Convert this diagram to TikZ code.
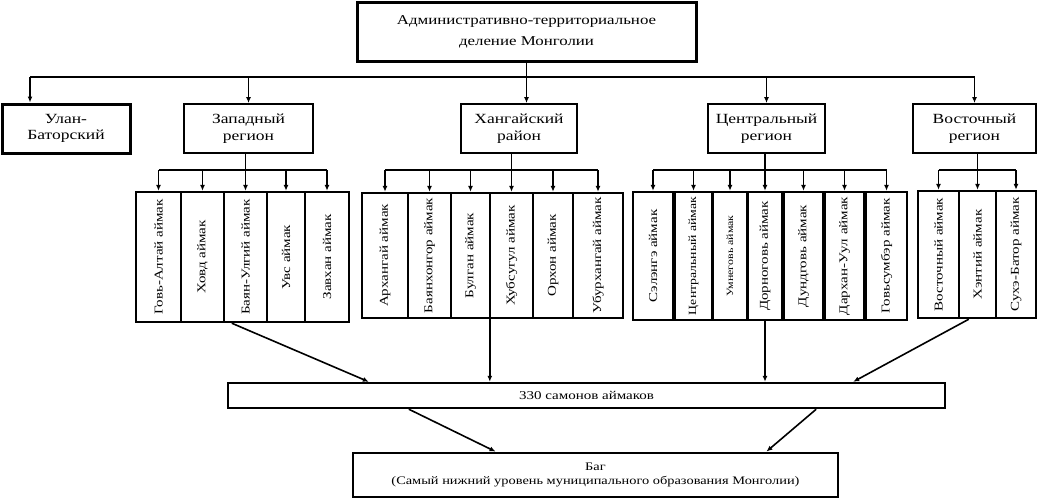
\documentclass[tikz,border=0pt]{standalone}
\usepackage{fontspec}
\usepackage{graphicx}
\setmainfont{Liberation Serif}
\newfontfamily\stf[FakeStretch=1.25]{Liberation Serif}
\usetikzlibrary{arrows.meta,calc}
\newcommand\bx[7]{\node[#1, minimum width={#4-#2}, minimum height={#5-#3}] (#6) at ({(#2+#4)/2},{(#3+#5)/2}) {#7};}
\newcommand\vt[1]{\rotatebox{90}{#1}}
\begin{document}
\begin{tikzpicture}[x=1pt,y=-1pt,
  box/.style={draw, line width=1.9pt, inner sep=0pt, align=center, font=\stf\fontsize{14}{16.5}\selectfont},
  tbox/.style={box, line width=3pt},
  abox/.style={draw, line width=2.4pt, inner sep=0pt, font=\stf\fontsize{12}{14}\selectfont},
  conn/.style={line width=1.6pt},
  arr/.style={conn, -{Latex[length=6pt,width=5pt]}}
]
\useasboundingbox (0,0) rectangle (1040,501);
% top
\bx{tbox, font=\stf\fontsize{13.5}{21}\selectfont}{357}{2}{696}{61}{top}{Административно-территориальное\\деление Монголии}
% regions
\bx{tbox}{2}{104}{130}{153}{ulan}{Улан-\\Баторский}
\bx{box}{184}{104}{313}{153}{west}{Западный\\регион}
\bx{box}{461}{104}{577}{153}{hang}{Хангайский\\район}
\bx{box}{708}{104}{825}{153}{cent}{Центральный\\регион}
\bx{box}{913}{104}{1036}{153}{east}{Восточный\\регион}
% top bus
\coordinate (busL) at (30,77);
\draw[conn] (top.south) -- (top.south |- busL);
\draw[conn] (busL) -- (east.north |- busL);
\draw[arr] (busL) -- (busL |- ulan.north);
\draw[arr] (west.north |- busL) -- (west.north);
\draw[arr] (top.south |- busL) -- (top.south |- hang.north);
\draw[arr] (cent.north |- busL) -- (cent.north);
\draw[arr] (east.north |- busL) -- (east.north);
% western aimags
\bx{abox}{136}{192}{181}{322}{w1}{\vt{Говь-Алтай аймак}}
\bx{abox}{181}{192}{224}{322}{w2}{\vt{Ховд аймак}}
\bx{abox}{224}{192}{267}{322}{w3}{\vt{Баян-Улгий аймак}}
\bx{abox}{267}{192}{305}{322}{w4}{\vt{Увс аймак}}
\bx{abox}{305}{192}{349}{322}{w5}{\vt{Завхан аймак}}
% khangai aimags
\bx{abox}{362}{193}{408}{318}{k1}{\vt{Архангай аймак}}
\bx{abox}{408}{193}{451}{318}{k2}{\vt{Баянхонгор аймак}}
\bx{abox}{451}{193}{490}{318}{k3}{\vt{Булган аймак}}
\bx{abox}{490}{193}{533}{318}{k4}{\vt{Хубсугул аймак}}
\bx{abox}{533}{193}{573}{318}{k5}{\vt{Орхон аймак}}
\bx{abox}{573}{193}{623}{318}{k6}{\vt{Убурхангай аймак}}
% central aimags
\bx{abox}{633}{192}{673}{320}{c1}{\vt{Сэлэнгэ аймак}}
\bx{abox}{675}{192}{712}{320}{c2}{\vt{\fontsize{11}{13}\selectfont Центральный аймак}}
\bx{abox}{713}{192}{747}{320}{c3}{\vt{\fontsize{9.5}{11}\selectfont Умнеговь аймак}}
\bx{abox}{748}{192}{782}{320}{c4}{\vt{Дорноговь аймак}}
\bx{abox}{784}{192}{823}{320}{c5}{\vt{Дундговь аймак}}
\bx{abox}{825}{192}{864}{320}{c6}{\vt{Дархан-Уул аймак}}
\bx{abox}{866}{192}{907}{320}{c7}{\vt{Говьсумбэр аймак}}
% eastern aimags
\bx{abox}{918}{191}{959}{318}{e1}{\vt{Восточный аймак}}
\bx{abox}{959}{191}{996}{318}{e2}{\vt{Хэнтий аймак}}
\bx{abox}{996}{191}{1036}{318}{e3}{\vt{Сухэ-Батор аймак}}
% buses to aimags
\coordinate (ab) at (0,170);
\draw[conn] (w1.north |- ab) -- (w5.north |- ab);
\draw[conn] (west.south -| w3.north) -- (w3.north |- ab);
\foreach \n in {w1,w2,w3,w4,w5} \draw[arr] (\n.north |- ab) -- (\n.north);
\draw[conn] (k1.north |- ab) -- (k6.north |- ab);
\draw[conn] (hang.south -| k4.north) -- (k4.north |- ab);
\foreach \n in {k1,k2,k3,k4,k5,k6} \draw[arr] (\n.north |- ab) -- (\n.north);
\draw[conn] (c1.north |- ab) -- (c7.north |- ab);
\draw[conn] (cent.south -| c4.north) -- (c4.north |- ab);
\foreach \n in {c1,c2,c3,c4,c5,c6,c7} \draw[arr] (\n.north |- ab) -- (\n.north);
\draw[conn] (e1.north |- ab) -- (e3.north |- ab);
\draw[conn] (east.south -| e2.north) -- (e2.north |- ab);
\foreach \n in {e1,e2,e3} \draw[arr] (\n.north |- ab) -- (\n.north);
% bottom
\bx{box, line width=2.4pt, font=\stf\fontsize{12}{14}\selectfont}{228}{383}{945}{408}{sam}{330 самонов аймаков}
\bx{box, line width=2.8pt, font=\stf\fontsize{11.5}{13.5}\selectfont}{353}{453}{838}{497}{bag}{Баг\\(Самый нижний уровень муниципального образования Монголии)}
\draw[arr] ([xshift=9pt]w3.south west) -- ([xshift=142pt]sam.north west);
\draw[arr] ([xshift=1pt]k4.south west) -- ([xshift=1pt]k4.south west |- sam.north);
\draw[arr] (c4.south) -- (c4.south |- sam.north);
\draw[arr] ([xshift=11pt]e2.south west) -- ([xshift=-93pt]sam.north east);
\draw[arr] ([xshift=182pt]sam.south west) -- ([xshift=144pt]bag.north west);
\draw[arr] ([xshift=-130pt]sam.south east) -- ([xshift=-73pt]bag.north east);
\end{tikzpicture}
\end{document}
